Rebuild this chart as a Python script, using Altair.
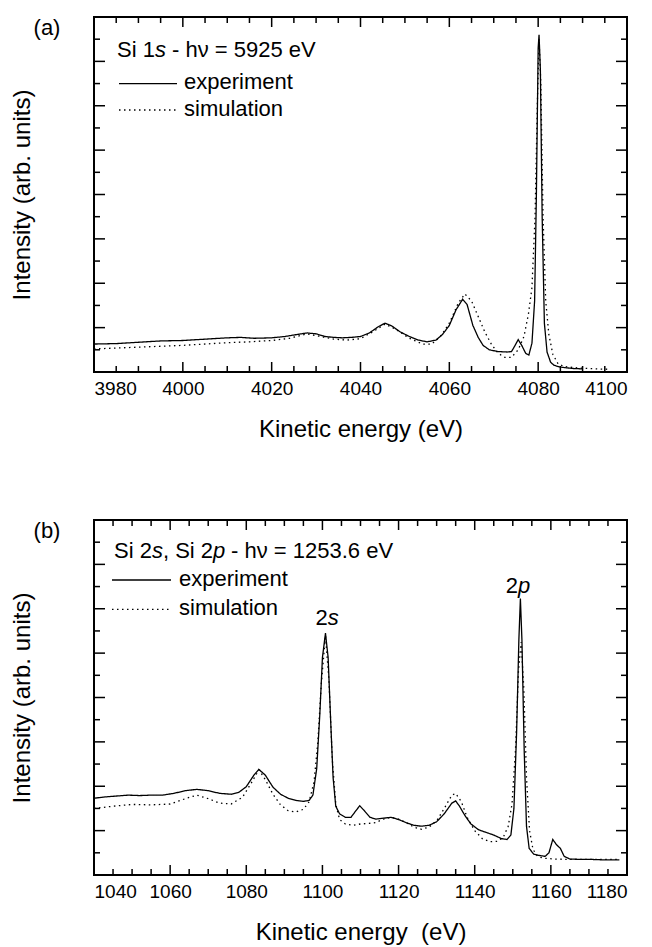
import altair as alt
import pandas as pd

FONT = "Liberation Sans"

# ---------------- Panel (a): Si 1s, hv = 5925 eV ----------------
a_exp_x = [3980, 3985, 3990, 3995, 4000, 4005, 4010, 4013, 4016, 4020, 4023, 4026, 4028,
           4030, 4032, 4034, 4036, 4038, 4040, 4042, 4044, 4045.5, 4047, 4049, 4051, 4053,
           4055, 4057, 4058.5, 4060, 4061.5, 4063, 4064, 4065.3, 4066.5, 4067.6, 4069, 4071,
           4073, 4074, 4074.8, 4075.5, 4076.3, 4077.2, 4077.9, 4078.6, 4079.2, 4079.6, 4080.0,
           4080.2, 4080.5, 4080.9, 4081.4, 4082.0, 4082.8, 4083.6, 4085, 4087.7, 4090]
a_exp_y = [0.63, 0.64, 0.67, 0.70, 0.71, 0.74, 0.77, 0.78, 0.76, 0.77, 0.80, 0.85, 0.88,
           0.86, 0.80, 0.78, 0.77, 0.78, 0.80, 0.88, 1.02, 1.10, 1.04, 0.90, 0.80, 0.72,
           0.68, 0.72, 0.85, 1.05, 1.40, 1.64, 1.52, 1.05, 0.78, 0.60, 0.50, 0.46,
           0.45, 0.46, 0.60, 0.73, 0.60, 0.42, 0.38, 0.65, 1.60, 4.00, 7.30,
           7.60, 6.80, 3.50, 1.10, 0.45, 0.22, 0.15, 0.11, 0.08, 0.07]

a_sim_x = [3980, 3990, 4000, 4010, 4015, 4020, 4024, 4028, 4031, 4034, 4037, 4040, 4043,
           4045.5, 4048, 4051, 4054, 4056, 4058, 4060, 4062, 4063.5, 4065, 4066.5, 4068,
           4069.5, 4071, 4072.5, 4074, 4075.5, 4076.8, 4077.8, 4078.6, 4079.3, 4079.8,
           4080.2, 4080.6, 4081.1, 4081.7, 4082.4, 4083.3, 4084.5, 4086, 4089, 4093, 4096]
a_sim_y = [0.52, 0.56, 0.60, 0.66, 0.68, 0.71, 0.76, 0.86, 0.80, 0.74, 0.72, 0.75, 0.92,
           1.08, 0.96, 0.76, 0.63, 0.63, 0.80, 1.10, 1.55, 1.76, 1.60, 1.25, 0.90,
           0.62, 0.42, 0.33, 0.33, 0.50, 0.80, 1.30, 1.90, 3.50, 6.00,
           7.50, 6.50, 3.50, 1.60, 0.85, 0.40, 0.18, 0.12, 0.09, 0.07, 0.06]

a_major = [3980, 4000, 4020, 4040, 4060, 4080, 4100]
a_minor = [v for v in range(3980, 4101, 5) if v % 20 != 0]

# ---------------- Panel (b): Si 2s, Si 2p, hv = 1253.6 eV ----------------
b_exp_x = [1040, 1043, 1046, 1049, 1052, 1055, 1058, 1061, 1064, 1067, 1070, 1073, 1076,
           1078, 1080, 1082, 1083.3, 1085, 1087, 1089, 1091, 1093, 1095, 1096.5, 1097.5,
           1098.5, 1099.3, 1100.0, 1100.8, 1101.5, 1102.2, 1102.8, 1103.5, 1104.5, 1106,
           1107.5, 1108.8, 1109.8, 1111, 1112.5, 1114, 1116, 1118, 1120, 1122, 1124, 1126,
           1128, 1130, 1132, 1134, 1135, 1136, 1137.5, 1139, 1141, 1143, 1145, 1147, 1148.5,
           1149.5, 1150.3, 1151.0, 1151.6, 1152.0, 1152.4, 1153.0, 1153.6, 1154.3, 1155.5,
           1157, 1158.5, 1159.5, 1160.5, 1161.5, 1162.5, 1163.5, 1165, 1168, 1171, 1174, 1178]
b_exp_y = [1.73, 1.76, 1.78, 1.80, 1.79, 1.80, 1.80, 1.84, 1.90, 1.93, 1.90, 1.84, 1.82,
           1.86, 1.99, 2.25, 2.38, 2.25, 1.98, 1.82, 1.73, 1.68, 1.66, 1.68, 1.80,
           2.40, 3.60, 4.90, 5.45, 4.90, 3.40, 2.20, 1.55, 1.38, 1.30,
           1.30, 1.45, 1.56, 1.45, 1.30, 1.26, 1.28, 1.30, 1.25, 1.18, 1.12, 1.10,
           1.12, 1.20, 1.38, 1.62, 1.67, 1.55, 1.33, 1.15, 1.02, 0.96, 0.90, 0.82, 0.80,
           0.90, 1.50, 3.20, 5.30, 6.23, 5.30, 2.80, 1.10, 0.60, 0.47,
           0.44, 0.42, 0.50, 0.80, 0.68, 0.60, 0.42, 0.36, 0.35, 0.35, 0.34, 0.34]

b_sim_x = [1040, 1045, 1050, 1055, 1060, 1064, 1067, 1070, 1073, 1076, 1079, 1081.5, 1083.3,
           1085, 1087, 1089, 1091, 1093, 1095, 1096.5, 1097.8, 1098.8, 1099.7, 1100.8,
           1101.7, 1102.6, 1103.5, 1104.5, 1106, 1108, 1110, 1112, 1114, 1116, 1118, 1120,
           1122, 1124, 1126, 1128, 1130, 1132, 1134, 1135, 1136.5, 1138, 1140, 1142, 1144,
           1146, 1147.5, 1148.8, 1149.8, 1150.7, 1151.5, 1152.2, 1152.9, 1153.6, 1154.4,
           1155.3, 1156.5, 1158, 1161, 1165, 1170, 1175, 1178]
b_sim_y = [1.50, 1.55, 1.59, 1.58, 1.60, 1.72, 1.80, 1.72, 1.62, 1.60, 1.75, 2.10, 2.37,
           2.15, 1.82, 1.58, 1.45, 1.42, 1.48, 1.65, 2.10, 3.00, 4.30, 5.40,
           4.40, 2.60, 1.60, 1.25, 1.15, 1.12, 1.15, 1.16, 1.18, 1.26, 1.30, 1.26,
           1.18, 1.08, 1.03, 1.08, 1.22, 1.50, 1.80, 1.84, 1.65, 1.30, 1.00, 0.82, 0.75,
           0.76, 0.85, 1.10, 1.60, 2.80, 4.60, 5.25, 4.20, 2.20, 1.00,
           0.58, 0.42, 0.38, 0.36, 0.35, 0.35, 0.35, 0.35]

b_major = [1040, 1060, 1080, 1100, 1120, 1140, 1160, 1180]
b_minor = [v for v in range(1040, 1181, 5) if v % 20 != 0]

y_long = [1, 2, 3, 4, 5, 6, 7]
y_short = [0.5, 1.5, 2.5, 3.5, 4.5, 5.5, 6.5, 7.5]

series_names = ["experiment", "simulation"]

W, H = 533, 355
LONG, SHORT = 10, 6
TXT = 22
NB = "\u00a0"


def text_piece(s, x, y, size=TXT, italic=False, align="left", baseline="alphabetic"):
    kw = dict(align=align, baseline=baseline, font=FONT, fontSize=size, color="black")
    if italic:
        kw["fontStyle"] = "italic"
    return alt.Chart(pd.DataFrame({"t": [s]})).mark_text(**kw).encode(
        text="t:N", x=alt.value(x), y=alt.value(y))


def panel(exp_x, exp_y, sim_x, sim_y, major, minor, xdom, xtitle, label,
          header, legend_pos, peak_labels):
    xs = alt.Scale(domain=xdom, nice=False, zero=False)
    ys = alt.Scale(domain=[0, 8], nice=False, zero=False)
    xax = alt.Axis(title=xtitle, values=major, format="d", ticks=False, domain=False,
                   grid=False, labelPadding=7, titlePadding=19, labelFontSize=19,
                   titleFontSize=24, labelFont=FONT, titleFont=FONT, labelColor="black",
                   titleColor="black", titleFontWeight="normal")
    yax = alt.Axis(title="Intensity (arb. units)", labels=False, ticks=False, domain=False,
                   grid=False, titlePadding=60, titleFontSize=24, titleFont=FONT,
                   titleColor="black", titleFontWeight="normal")

    def X():
        return alt.X("E:Q", scale=xs, axis=xax, title=xtitle)

    def Y():
        return alt.Y("I:Q", scale=ys, axis=yax, title="Intensity (arb. units)")

    df = pd.DataFrame({
        "E": exp_x + sim_x,
        "I": exp_y + sim_y,
        "series": [series_names[0]] * len(exp_x) + [series_names[1]] * len(sim_x),
    })
    lines = alt.Chart(df).mark_line(color="black", strokeWidth=1.3).encode(
        x=X(), y=Y(),
        strokeDash=alt.StrokeDash("series:N", scale=alt.Scale(
            domain=series_names, range=[[1, 0], [1.5, 3.5]]), legend=None),
    )

    def xticks(vals, length, top):
        d = pd.DataFrame({"E": vals})
        if top:
            yy = dict(y=alt.value(0), y2=alt.value(length))
        else:
            yy = dict(y=alt.value(H - length), y2=alt.value(H))
        return alt.Chart(d).mark_rule(color="black", strokeWidth=1.5).encode(x=X(), **yy)

    def yticks(vals, length, right):
        d = pd.DataFrame({"I": vals})
        if right:
            xx = dict(x=alt.value(W - length), x2=alt.value(W))
        else:
            xx = dict(x=alt.value(0), x2=alt.value(length))
        return alt.Chart(d).mark_rule(color="black", strokeWidth=1.5).encode(y=Y(), **xx)

    ticks = [xticks(major, LONG, False), xticks(minor, SHORT, False),
             xticks(major, LONG, True), xticks(minor, SHORT, True),
             yticks(y_long, LONG + 1, False), yticks(y_short, SHORT, False),
             yticks(y_long, LONG + 1, True), yticks(y_short, SHORT, True)]

    texts = [text_piece(label, -47, 11, size=22, align="center", baseline="middle")]
    for s, x, y, it in header:
        texts.append(text_piece(s, x, y, italic=it))

    (lx0, lx1, ly_exp, ly_sim, tx, tb_exp, tb_sim) = legend_pos
    leg = [
        alt.Chart(pd.DataFrame({"series": [series_names[0]]})).mark_rule(
            color="black", strokeWidth=1.3).encode(
            x=alt.value(lx0), x2=alt.value(lx1), y=alt.value(ly_exp)),
        alt.Chart(pd.DataFrame({"series": [series_names[1]]})).mark_rule(
            color="black", strokeWidth=1.3, strokeDash=[1.5, 3.5]).encode(
            x=alt.value(lx0), x2=alt.value(lx1), y=alt.value(ly_sim)),
        text_piece(series_names[0], tx, tb_exp),
        text_piece(series_names[1], tx, tb_sim),
    ]
    for s, e, i, it, al in peak_labels:
        kw = dict(align=al, baseline="alphabetic", font=FONT, fontSize=TXT, color="black")
        if it:
            kw["fontStyle"] = "italic"
        texts.append(alt.Chart(pd.DataFrame({"E": [e], "I": [i], "t": [s]})).mark_text(
            **kw).encode(x=X(), y=Y(), text="t:N"))

    return alt.layer(lines, *ticks, *leg, *texts).properties(width=W, height=H)


fs = TXT
hdr_a = [("Si 1", 23, 40, False), ("s", 23 + 1.723 * fs, 40, True),
         ("- h\u03bd = 5925 eV", 23 + 2.5 * fs, 40, False)]
hdr_b = [("Si 2", 20, 38, False), ("s", 20 + 1.723 * fs, 38, True),
         (", Si 2", 20 + 2.223 * fs, 38, False), ("p", 20 + 4.502 * fs, 38, True),
         ("- h\u03bd = 1253.6 eV", 20 + 5.32 * fs, 38, False)]

pa = panel(a_exp_x, a_exp_y, a_sim_x, a_sim_y, a_major, a_minor, [3980, 4100],
           "Kinetic energy (eV)", "(a)", hdr_a,
           (25, 83, 66.7, 93, 90, 72, 99), [])
pb = panel(b_exp_x, b_exp_y, b_sim_x, b_sim_y, b_major, b_minor, [1040, 1180],
           "Kinetic energy" + NB + " (eV)", "(b)", hdr_b,
           (18, 77, 60, 89.3, 85, 65.5, 95),
           [("2", 1101.4, 5.63, False, "right"), ("s", 1101.4, 5.63, True, "left"),
            ("2", 1151.4, 6.35, False, "right"), ("p", 1151.4, 6.35, True, "left")])

chart = alt.vconcat(pa, pb, spacing=76).properties(
    padding={"left": 9, "top": 15, "right": 5, "bottom": 0},
    background="white",
).configure_view(stroke="black", strokeWidth=2)

chart.save("out.html", embed_options={"renderer": "svg", "actions": False})
